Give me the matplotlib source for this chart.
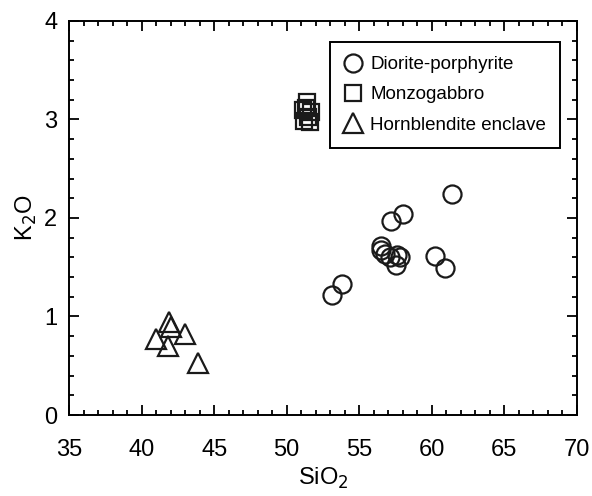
import matplotlib
matplotlib.use("Agg")
import matplotlib.pyplot as plt
from matplotlib.ticker import MultipleLocator

plt.rcParams['font.family'] = ['Liberation Sans', 'DejaVu Sans']

# Diorite-porphyrite
dio_sio2 = [53.1, 53.8, 56.5, 56.5, 56.8, 57.1, 57.6, 57.8, 57.5, 57.2, 58.0, 60.2, 60.9, 61.4]
dio_k2o = [1.22, 1.33, 1.72, 1.67, 1.63, 1.60, 1.62, 1.60, 1.52, 1.97, 2.04, 1.61, 1.49, 2.24]

# Monzogabbro
mon_sio2 = [51.1, 51.4, 51.7, 51.2, 51.6, 51.5, 51.3]
mon_k2o = [3.10, 3.18, 3.08, 2.98, 2.97, 3.03, 3.12]

# Hornblendite enclave
hor_sio2 = [41.0, 41.8, 41.9, 42.0, 43.0, 43.9]
hor_k2o = [0.77, 0.70, 0.94, 0.89, 0.82, 0.53]

fig = plt.figure(figsize=(5.92, 4.96), dpi=100)
ax = fig.add_axes([0.1166, 0.1633, 0.858, 0.7944])

ax.plot(dio_sio2, dio_k2o, 'o', ls='none', mfc='none', mec='#1a1a1a', ms=13, mew=1.6,
        label='Diorite-porphyrite')
ax.plot(mon_sio2, mon_k2o, 's', ls='none', mfc='none', mec='#1a1a1a', ms=12, mew=1.6,
        label='Monzogabbro')
ax.plot(hor_sio2, hor_k2o, '^', ls='none', mfc='none', mec='#1a1a1a', ms=14, mew=1.6,
        label='Hornblendite enclave')

ax.set_xlim(35, 70)
ax.set_ylim(0, 4)
ax.xaxis.set_major_locator(MultipleLocator(5))
ax.xaxis.set_minor_locator(MultipleLocator(1))
ax.yaxis.set_major_locator(MultipleLocator(1))
ax.yaxis.set_minor_locator(MultipleLocator(0.2))
ax.tick_params(which='both', direction='in', top=True, right=True, width=1.3, labelsize=17)
ax.tick_params(which='major', length=7)
ax.tick_params(which='minor', length=3.5)
ax.tick_params(axis='x', which='major', pad=17)
ax.tick_params(axis='y', which='major', pad=8.5)
for s in ax.spines.values():
    s.set_linewidth(1.4)

ax.set_xlabel('SiO$_2$', fontsize=17, labelpad=4)
ax.set_ylabel('K$_2$O', fontsize=17, labelpad=4)

leg = ax.legend(loc='upper right', bbox_to_anchor=(0.9665, 0.9467), borderaxespad=0,
                fontsize=13.5, frameon=True, fancybox=False, edgecolor='black',
                handletextpad=0.4, handlelength=1.0, borderpad=0.75, labelspacing=0.7)
leg.get_frame().set_linewidth(1.4)
leg.get_frame().set_alpha(1)

fig.savefig('out.png', dpi=100)
